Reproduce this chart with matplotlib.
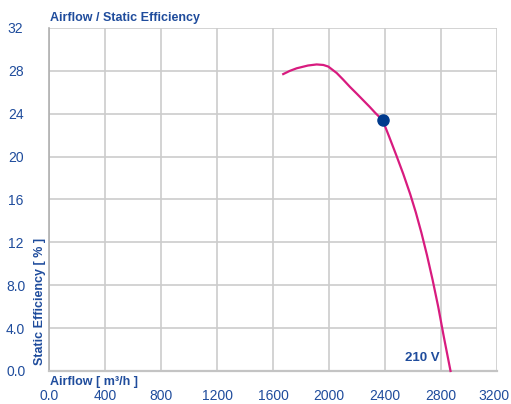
import matplotlib
matplotlib.use("Agg")
import matplotlib.pyplot as plt
from matplotlib.transforms import ScaledTranslation

plt.rcParams["font.family"] = ["Liberation Sans", "DejaVu Sans"]

BLUE = "#1f4c9c"
CURVE = "#d81b7f"
DOT = "#003a8c"
GRID = "#cccccc"

# curve (airflow m3/h, static efficiency %)
airflow = [1673, 1720, 1769, 1850, 1912, 1960, 1995, 2055, 2100, 2150,
           2200, 2245, 2290, 2329, 2383, 2430, 2480, 2530, 2580, 2620,
           2660, 2700, 2740, 2780, 2820, 2868]
efficiency = [27.7, 28.0, 28.24, 28.5, 28.6, 28.55, 28.4, 27.8, 27.2, 26.5,
              25.85, 25.25, 24.65, 24.1, 23.4, 21.85, 20.15, 18.4, 16.5, 14.8,
              12.9, 10.8, 8.5, 6.0, 3.2, 0.0]
op_airflow = [2383]
op_efficiency = [23.4]

x_ticks = [0, 400, 800, 1200, 1600, 2000, 2400, 2800, 3200]
x_labels = ["0.0", "400", "800", "1200", "1600", "2000", "2400", "2800", "3200"]
y_ticks = [0, 4, 8, 12, 16, 20, 24, 28, 32]
y_labels = ["0.0", "4.0", "8.0", "12", "16", "20", "24", "28", "32"]

fig = plt.figure(figsize=(5.11, 4.04), dpi=100)
ax = fig.add_axes([0.0959, 0.0817, 0.8767, 0.849])
ax.set_xlim(0, 3200)
ax.set_ylim(0, 32)

ax.set_xticks(x_ticks)
ax.set_xticklabels(x_labels)
ax.set_yticks(y_ticks)
ax.set_yticklabels(y_labels)
ax.tick_params(length=0, labelsize=10, labelcolor=BLUE)
ax.tick_params(axis="x", pad=13)
ax.tick_params(axis="y", pad=24)
for lab in ax.get_yticklabels():
    lab.set_horizontalalignment("center")
# last x label sits at the figure edge, nudge it in a little
last = ax.get_xticklabels()[-1]
last.set_transform(last.get_transform()
                   + ScaledTranslation(-3 / 100, 0, fig.dpi_scale_trans))

ax.grid(True, color=GRID, lw=1.2)
ax.set_axisbelow(True)
for s in ["top", "right"]:
    ax.spines[s].set_visible(False)
ax.spines["left"].set_color("#b0b0b0")
ax.spines["left"].set_linewidth(1.2)
ax.spines["bottom"].set_color("#c4c4c4")
ax.spines["bottom"].set_linewidth(1.6)

ax.plot(airflow, efficiency, color=CURVE, lw=1.6, zorder=3, clip_on=False,
        solid_joinstyle="round")
ax.plot(op_airflow, op_efficiency, "o", color=DOT, ms=8, zorder=4)

fig.text(0.098, 0.955, "Airflow / Static Efficiency", color=BLUE, fontsize=9,
         fontweight="bold", ha="left", va="center")
fig.text(0.098, 0.055, "Airflow [ m³/h ]", color=BLUE, fontsize=9,
         fontweight="bold", ha="left", va="center")
fig.text(0.078, 0.255, "Static Efficiency [ % ]", color=BLUE, fontsize=9,
         fontweight="bold", rotation=90, ha="center", va="center")
ax.text(2670, 1.2, "210 V", color=BLUE, fontsize=9.5, fontweight="bold",
        ha="center", va="center")

fig.savefig("out.png", dpi=100)
